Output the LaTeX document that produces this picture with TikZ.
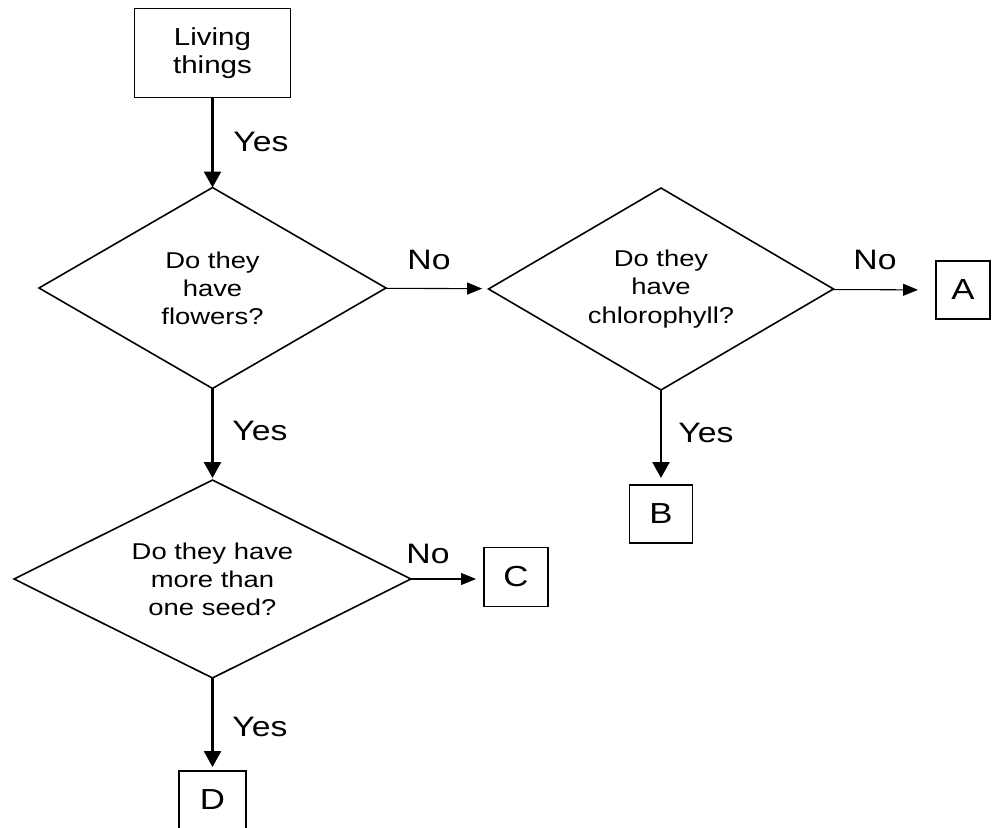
\documentclass[tikz,border=0pt]{standalone}
\usepackage{fontspec}
\setmainfont{Liberation Sans}[FakeStretch=1.2]
\usetikzlibrary{shapes.geometric,arrows.meta}

\begin{document}
\begin{tikzpicture}[x=0.02cm,y=-0.02cm,inner sep=0mm,outer sep=0mm,
  dia/.style={draw,diamond,aspect=2,line width=0.9pt,align=center,font=\fontsize{13}{16}\selectfont},
  box/.style={draw,rectangle,line width=1.1pt,align=center},
  lab/.style={font=\fontsize{16}{19}\selectfont},
  vline/.style={-{Triangle[length=0.32cm,width=0.34cm]},line width=1.4pt},
  hline/.style={-{Triangle[length=0.3cm,width=0.24cm]},line width=0.6pt}]

\useasboundingbox (0,0) rectangle (992,828);

% boxes
\node(living) at (212.5,53) [box,minimum width=3.12cm,minimum height=1.78cm,font=\fontsize{14}{16}\selectfont] {Living\\things};
\node(a) at (963,290) [box,minimum width=1.08cm,minimum height=1.16cm,font=\fontsize{16.5}{19}\selectfont] {A};
\node(b) at (661,514) [box,minimum width=1.26cm,minimum height=1.16cm,font=\fontsize{16.5}{19}\selectfont] {B};
\node(c) at (516,577) [box,minimum width=1.28cm,minimum height=1.18cm,font=\fontsize{16.5}{19}\selectfont] {C};
\node(d) at (212.5,800) [box,minimum width=1.34cm,minimum height=1.16cm,font=\fontsize{16.5}{19}\selectfont] {D};

% questions
\node(q1) at (212.5,288) [dia,minimum width=6.94cm,minimum height=4.02cm] {Do they\\have\\flowers?};
\node(q2) at (661,289) [dia,minimum width=6.9cm,minimum height=4.04cm] {Do they\\have\\chlorophyll?};
\node(q3) at (212.5,579) [dia,minimum width=7.94cm,minimum height=3.96cm] {Do they have\\more than\\one seed?};

% arrows
\draw[vline] (living) -- (q1);
\draw[vline,shorten >=0.04cm] (q1) -- (q3);
\draw[vline,shorten >=0.14cm] (q2) -- (b);
\draw[vline,shorten >=0.08cm] (q3) -- (d);
\draw[hline,shorten >=0.14cm] (q1) -- (q2);
\draw[hline,shorten >=0.36cm] (q2) -- (a);
\draw[hline,shorten >=0.16cm] (q3.east) -- (q3.east -| c.west);

% labels
\node(yes1) at (261,142) [lab] {Yes};
\node(no1) at (429,260) [lab] {No};
\node(no2) at (875,260) [lab] {No};
\node(yes2) at (706,433) [lab] {Yes};
\node(yes3) at (260,431) [lab] {Yes};
\node(no3) at (428,554) [lab] {No};
\node(yes4) at (260,727) [lab] {Yes};

\end{tikzpicture}
\end{document}
